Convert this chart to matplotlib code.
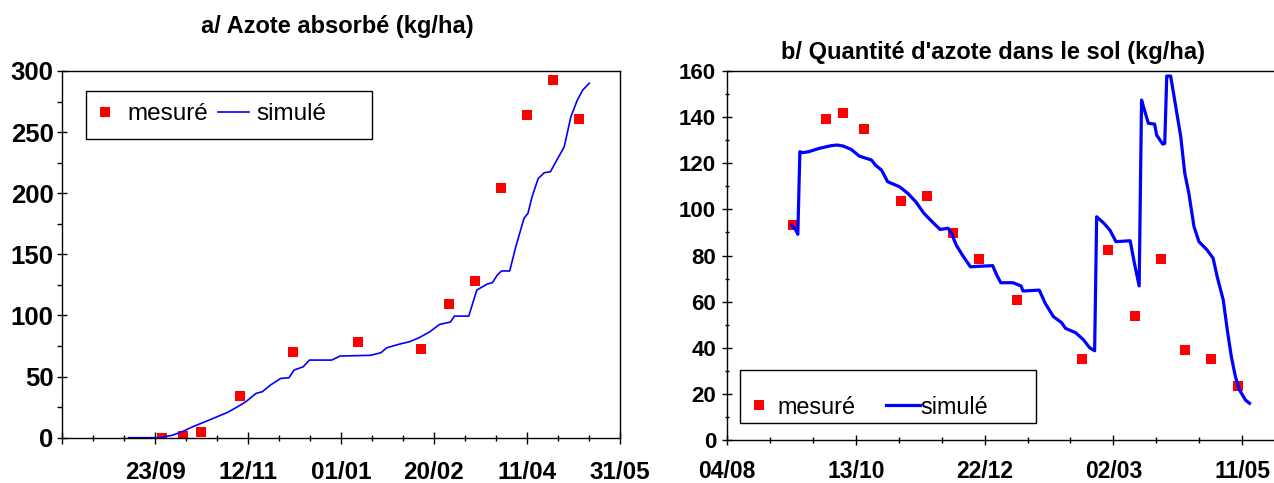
import matplotlib
matplotlib.use("Agg")
import matplotlib.pyplot as plt
from matplotlib.patches import Rectangle
from matplotlib.ticker import FixedLocator, MultipleLocator

plt.rcParams['font.family'] = ['Liberation Sans', 'DejaVu Sans']

# axe des x : jours comptés depuis le 04/08
# a/ azote absorbé (kg/ha)
mes_a_jour = [54, 64.8, 74.7, 95.8, 124, 159, 193, 208, 222, 236, 250, 264, 278]
mes_a_val = [0, 1.6, 4.6, 34, 70, 78.5, 72.8, 109, 128, 204.5, 264, 292.6, 260.7]

sim_a_jour = [35.8, 52.7, 59.3, 64.8, 70.3, 74.7, 81.3, 89, 94.5, 98.9, 104.4, 107.7,
              112, 117.6, 122, 124.8, 129.7, 133, 145, 149.5, 166, 171.4, 174.7, 181,
              186.8, 192, 197.8, 203, 208.8, 211, 218.7, 223, 228.6, 231.4, 234, 236.3,
              240.7, 244, 248.4, 250.5, 252.7, 256, 259.3, 262.6, 266, 270, 273.6, 277,
              280, 283.5]
sim_a_val = [0, 0, 2, 5, 9, 11.7, 15.8, 20.7, 25.4, 29.5, 36.3, 37.6,
             43, 48.5, 49, 55.4, 58, 63.5, 63.5, 66.8, 67.4, 69.5, 73.6, 76.4,
             78.5, 81.8, 86.7, 92.7, 94.6, 99.5, 99.5, 120.8, 125.7, 126.8, 133, 136.4,
             136.4, 156.4, 179.5, 183.5, 197, 212, 216.8, 217.6, 227, 238, 262.6, 276,
             284.5, 290]

# b/ quantité d'azote dans le sol (kg/ha)
mes_b_jour = [35.6, 53.6, 62.9, 74.7, 94.7, 108.6, 122.6, 136.7, 157.6, 192.7,
              206.8, 221.8, 235.8, 249, 262.9, 277.8]
mes_b_val = [93.2, 139.2, 142, 134.8, 103.8, 106, 89.6, 78.3, 60.5, 35,
             82.4, 53.8, 78.3, 39, 35.3, 23.4]

sim_b_jour = [35.2, 37.4, 38.5, 39.6, 41, 44.4, 49.9, 56.5, 59.8, 63, 67.5, 71.9,
              78.5, 80.7, 84, 87.3, 93.8, 98.2, 102.6, 107, 111.4, 115.8, 120.2, 122,
              124.6, 127.9, 132.3, 138.9, 144.4, 146.6, 148.8, 155.4, 159.8, 160.9,
              169.7, 173, 177.4, 181.8, 184, 189.5, 193.8, 197.1, 199.8, 200.9, 204.8,
              208.1, 211.4, 219.1, 221.8, 224, 225.3, 226.9, 229, 232.4, 233.5, 236.8,
              237.9, 239, 241.1, 243.3, 246.6, 248.8, 251, 253.8, 256.5, 260.9, 264.2,
              266.4, 269.7, 271.9, 274.1, 276.3, 278.5, 281.8, 284]
sim_b_val = [93.2, 91, 89.2, 125, 124.6, 125, 126.4, 127.6, 127.9, 127.5, 126, 123.1,
             121.4, 119.2, 117, 112, 109.8, 107, 103.3, 98.3, 94.7, 91.3, 91.8, 89.6,
             84.5, 80.2, 75.1, 75.4, 75.6, 71.5, 68.2, 68.2, 66.8, 64.6,
             65, 59.2, 53.5, 50.9, 48.4, 46.5, 43.4, 40, 38.7, 96.8, 94,
             91, 86, 86.4, 75.1, 66.8, 147.4, 143, 137.3, 137, 132.2, 128.3,
             128.6, 157.8, 157.8, 147.4, 131.5, 115.6, 107, 92.5, 86, 82.4, 78.8,
             70.8, 60.7, 47.7, 36.1, 27.5, 21.7, 17.3, 15.9]

ticks_a = [0, 50, 100, 150, 200, 250, 300]
labels_a = ['', '23/09', '12/11', '01/01', '20/02', '11/04', '31/05']
ticks_b = [0, 70, 140, 210, 280]
labels_b = ['04/08', '13/10', '22/12', '02/03', '11/05']

W, H = 1274, 483
fig = plt.figure(figsize=(W / 100, H / 100), dpi=100)


def cadre(ax, x0, y0, x1, y1):
    # cadre de légende, en pixels de la figure
    r = Rectangle((x0 / W, 1 - y1 / H), (x1 - x0) / W, (y1 - y0) / H,
                  transform=fig.transFigure, facecolor='white', edgecolor='black',
                  lw=1, clip_on=False, zorder=4)
    ax.add_patch(r)


# ---- a/
ax1 = fig.add_axes([62 / W, 1 - 437.7 / H, 558 / W, 366.7 / H])
ax1.plot(mes_a_jour, mes_a_val, 's', color='#ff0000', ms=6.5, mew=0, label='mesuré')
ax1.plot(sim_a_jour, sim_a_val, '-', color='#0000ff', lw=1.2, label='simulé')
ax1.set_xlim(0, 300)
ax1.set_ylim(0, 300)
ax1.xaxis.set_major_locator(FixedLocator(ticks_a))
ax1.set_xticklabels(labels_a)
ax1.xaxis.set_minor_locator(MultipleLocator(50 / 3))
ax1.yaxis.set_major_locator(MultipleLocator(50))
ax1.yaxis.set_minor_locator(MultipleLocator(25))
ax1.tick_params(axis='x', which='major', direction='inout', length=8, width=1,
                pad=12.5, labelsize=17.5)
ax1.tick_params(axis='x', which='minor', direction='inout', length=5, width=1)
ax1.tick_params(axis='y', which='major', direction='inout', length=7, width=1,
                pad=2.5, labelsize=18.5)
ax1.tick_params(axis='y', which='minor', direction='out', length=3.5, width=1)
for t in ax1.get_xticklabels() + ax1.get_yticklabels():
    t.set_fontweight('bold')
for s in ax1.spines.values():
    s.set_linewidth(1)
cadre(ax1, 86, 91, 372, 139)
leg1 = ax1.legend(loc='center left', bbox_to_anchor=(89.5 / W, 1 - 114 / H),
                  bbox_transform=fig.transFigure, ncol=2, frameon=False,
                  fontsize=17.5, handlelength=1.28, handletextpad=0.3,
                  columnspacing=0.4, borderpad=0, borderaxespad=0)
leg1.set_zorder(5)
fig.text(337 / W, 1 - 27 / H, 'a/ Azote absorbé (kg/ha)', ha='center', va='center',
         fontsize=17, fontweight='bold')

# ---- b/
ax2 = fig.add_axes([727 / W, 1 - 440 / H, 552 / W, 369 / H])
ax2.plot(mes_b_jour, mes_b_val, 's', color='#ff0000', ms=6.5, mew=0, label='mesuré')
ax2.plot(sim_b_jour, sim_b_val, '-', color='#0000ff', lw=2.3, label='simulé')
ax2.set_xlim(0, 300)
ax2.set_ylim(0, 160)
ax2.xaxis.set_major_locator(FixedLocator(ticks_b))
ax2.set_xticklabels(labels_b)
ax2.xaxis.set_minor_locator(MultipleLocator(70 / 3))
ax2.yaxis.set_major_locator(MultipleLocator(20))
ax2.yaxis.set_minor_locator(MultipleLocator(10))
ax2.tick_params(axis='x', which='major', direction='inout', length=7, width=1,
                pad=11, labelsize=16.5)
ax2.tick_params(axis='x', which='minor', direction='inout', length=5, width=1)
ax2.tick_params(axis='y', which='major', direction='inout', length=6.5, width=1,
                pad=4.5, labelsize=16)
ax2.tick_params(axis='y', which='minor', direction='inout', length=3, width=1)
for t in ax2.get_xticklabels() + ax2.get_yticklabels():
    t.set_fontweight('bold')
ax2.spines['right'].set_visible(False)
for s in ax2.spines.values():
    s.set_linewidth(1)
cadre(ax2, 740, 370, 1036, 423)
leg2 = ax2.legend(loc='center left', bbox_to_anchor=(742 / W, 1 - 407 / H),
                  bbox_transform=fig.transFigure, ncol=2, frameon=False,
                  fontsize=16.8, handlelength=1.46, handletextpad=0.05,
                  columnspacing=1.3, borderpad=0, borderaxespad=0)
leg2.set_zorder(5)
fig.text(993 / W, 1 - 52 / H, "b/ Quantité d'azote dans le sol (kg/ha)", ha='center',
         va='center', fontsize=17, fontweight='bold')

fig.savefig('out.png', dpi=100)
